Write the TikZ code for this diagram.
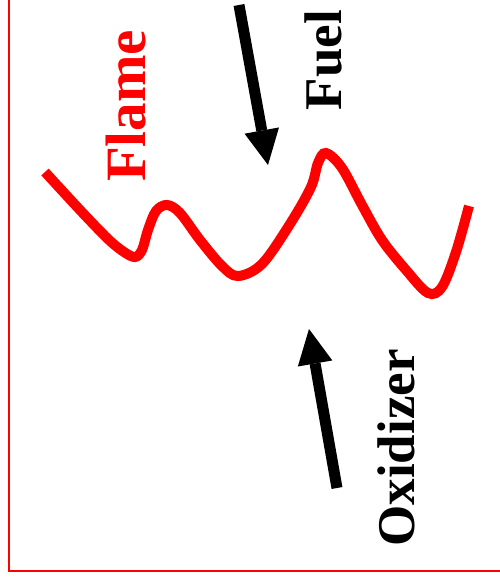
\documentclass[tikz,border=0pt]{standalone}
\usepackage{fontspec}
\setmainfont{Liberation Serif}
\usetikzlibrary{arrows.meta}
\definecolor{flamered}{HTML}{FF0000}
\tikzset{
  frameline/.style={draw=flamered,line width=2pt},
  flameline/.style={draw=flamered,line width=10pt},
  flowarr/.style={-{Triangle[length=35pt,width=35pt,line width=0pt]},line width=11pt},
  sidelabel/.style={rotate=90,anchor=south,inner sep=0pt,
                    font=\bfseries\fontsize{53}{53}\selectfont}
}
\begin{document}
\begin{tikzpicture}[x=1pt,y=-1pt]
  \useasboundingbox (0,0) rectangle (499,582);
  % frame, top and right edges run off the page
  \draw[frameline] (9,-20) -- (9,570.5) -- (520,570.5);

  % flame front
  \draw[flameline] plot[smooth,tension=0.55] coordinates {
    (45,172) (80,210) (108,239) (124,252) (135,257) (142,250) (148,230)
    (156,211) (167,205) (180,213) (200,240) (222,266) (238,276) (262,264)
    (290,224) (311,187) (318,163) (326,153) (342,168) (362,205) (382,240)
    (406,270) (428,293) (442,287) (456,252) (469,206)};

  % flows
  \coordinate (fueltail) at (239,5);
  \coordinate (fueltip) at (268,165);
  \coordinate (oxtail) at (337,488);
  \coordinate (oxtip) at (309,329);
  \draw[flowarr] (fueltail) -- (fueltip);
  \draw[flowarr] (oxtail) -- (oxtip);

  % labels
  \node[sidelabel,text=flamered,font=\bfseries\fontsize{57}{57}\selectfont] (flame) at (146,106) {Flame};
  \node[sidelabel] (fuel) at (342,60) {Fuel};
  \node[sidelabel] (oxidizer) at (415,448) {Oxidizer};
\end{tikzpicture}
\end{document}
